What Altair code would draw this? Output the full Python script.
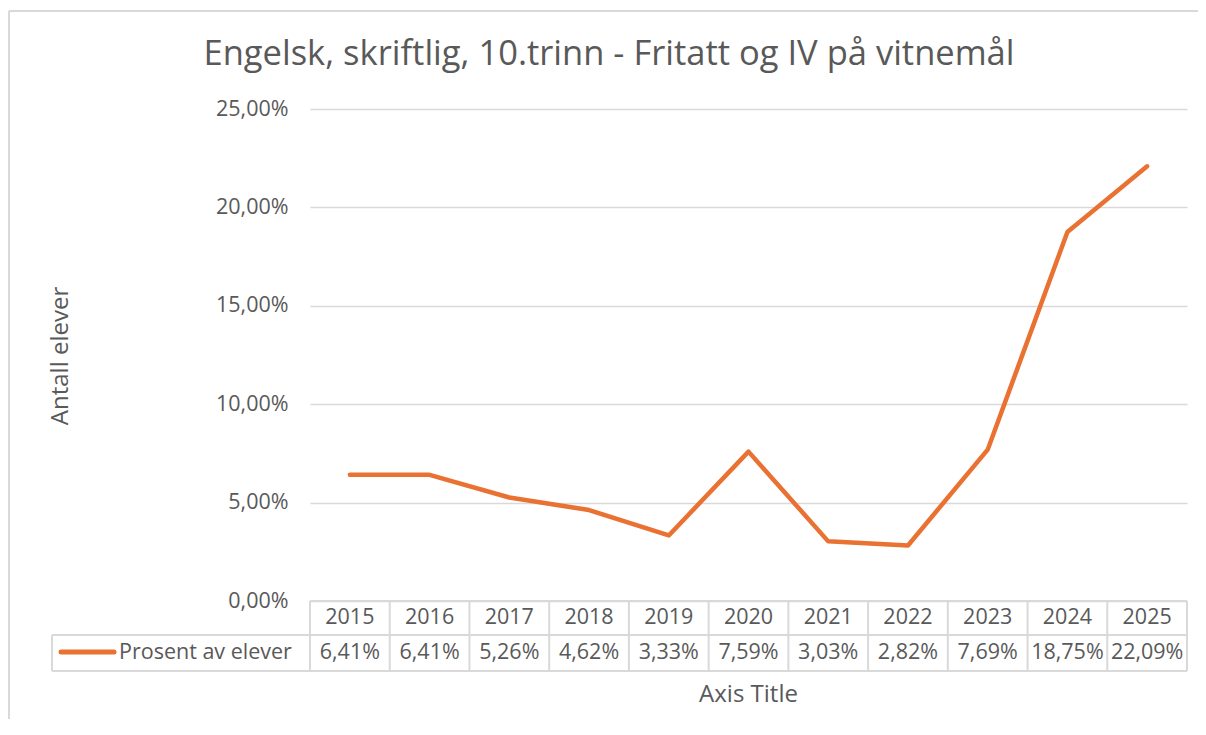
import altair as alt
import pandas as pd

years = ["2015", "2016", "2017", "2018", "2019", "2020", "2021", "2022", "2023", "2024", "2025"]
values = [6.41, 6.41, 5.26, 4.62, 3.33, 7.59, 3.03, 2.82, 7.69, 18.75, 22.09]
y_ticks = [0, 5, 10, 15, 20, 25]

title_text = "Engelsk, skriftlig, 10.trinn - Fritatt og IV på vitnemål"
series_name = "Prosent av elever"
y_title = "Antall elever"
x_title = "Axis Title"

FONT = "Open Sans"
TXT = "#595959"
GRID = "#d9d9d9"
ORANGE = "#E97132"
FS = 21.5

W, H = 877, 492

df = pd.DataFrame({
    "Year": years,
    "Value": values,
    "Label": [f"{v:.2f}%".replace(".", ",") for v in values],
})
one = pd.DataFrame({"k": [0]})

xs = alt.Scale(type="band", domain=years, paddingInner=0, paddingOuter=0)
X = alt.X("Year:N", scale=xs, axis=None)

base = alt.Chart(df)

line = base.mark_line(color=ORANGE, strokeWidth=4.5, strokeCap="round", strokeJoin="round").encode(
    x=X,
    y=alt.Y(
        "Value:Q",
        scale=alt.Scale(domain=[0, 25], nice=False, zero=True),
        axis=alt.Axis(
            values=y_ticks,
            title=None,
            domain=False,
            ticks=False,
            labelPadding=22,
            labelFont=FONT,
            labelFontSize=FS,
            labelColor=TXT,
            labelExpr="replace(format(datum.value, '.2f'), '.', ',') + '%'",
            grid=True,
            gridColor=GRID,
            gridWidth=1.3,
        ),
    ),
)

header = base.mark_text(font=FONT, fontSize=FS, color=TXT, baseline="middle").encode(
    x=X, y=alt.value(509), text="Year:N"
)
cells = base.mark_text(font=FONT, fontSize=FS, color=TXT, baseline="middle").encode(
    x=X, y=alt.value(544), text="Label:N"
)
vlines = base.mark_rule(color=GRID, strokeWidth=2).encode(
    x=alt.X("Year:N", scale=xs, axis=None, bandPosition=0),
    y=alt.value(492), y2=alt.value(562),
)

def rule(x, x2, y, y2):
    return alt.Chart(one).mark_rule(color=GRID, strokeWidth=2).encode(
        x=alt.value(x), x2=alt.value(x2), y=alt.value(y), y2=alt.value(y2)
    )

table_rules = [
    rule(W, W, 492, 562),        # right edge
    rule(0, W, 492, 492),        # header top
    rule(-258, W, 526, 526),     # row divider
    rule(-258, W, 562, 562),     # bottom
    rule(-258, -258, 526, 562),  # legend cell left
]

legend_line = alt.Chart(one).mark_rule(color=ORANGE, strokeWidth=5, strokeCap="round").encode(
    x=alt.value(-249), x2=alt.value(-196), y=alt.value(543), y2=alt.value(543)
)
legend_text = alt.Chart(one).mark_text(font=FONT, fontSize=FS, color=TXT, align="left", baseline="middle").encode(
    x=alt.value(-191), y=alt.value(544), text=alt.value(series_name)
)

title = alt.Chart(one).mark_text(font=FONT, fontSize=34.5, color=TXT, align="center", baseline="middle").encode(
    x=alt.value(299), y=alt.value(-54), text=alt.value(title_text)
)
ytitle = alt.Chart(one).mark_text(font=FONT, fontSize=24, color=TXT, align="center", baseline="middle", angle=270).encode(
    x=alt.value(-249), y=alt.value(247), text=alt.value(y_title)
)
xtitle = alt.Chart(one).mark_text(font=FONT, fontSize=24, color=TXT, align="center", baseline="middle").encode(
    x=alt.value(W / 2), y=alt.value(586), text=alt.value(x_title)
)

border = [
    alt.Chart(one).mark_rule(color=GRID, strokeWidth=2).encode(
        x=alt.value(-301), x2=alt.value(-301), y=alt.value(-98), y2=alt.value(700)
    ),
    alt.Chart(one).mark_rule(color=GRID, strokeWidth=2).encode(
        x=alt.value(-301), x2=alt.value(W + 20), y=alt.value(-98), y2=alt.value(-98)
    ),
]

chart = alt.layer(
    *border, line, vlines, *table_rules, header, cells, legend_line, legend_text, title, ytitle, xtitle
).properties(
    width=W, height=H,
    autosize=alt.AutoSizeParams(type="none"),
    padding={"left": 302, "top": 101, "right": 11, "bottom": 118},
    background="white",
).configure_view(stroke="transparent", strokeWidth=0)

chart.save("out.html", embed_options={"renderer": "svg", "actions": False})
